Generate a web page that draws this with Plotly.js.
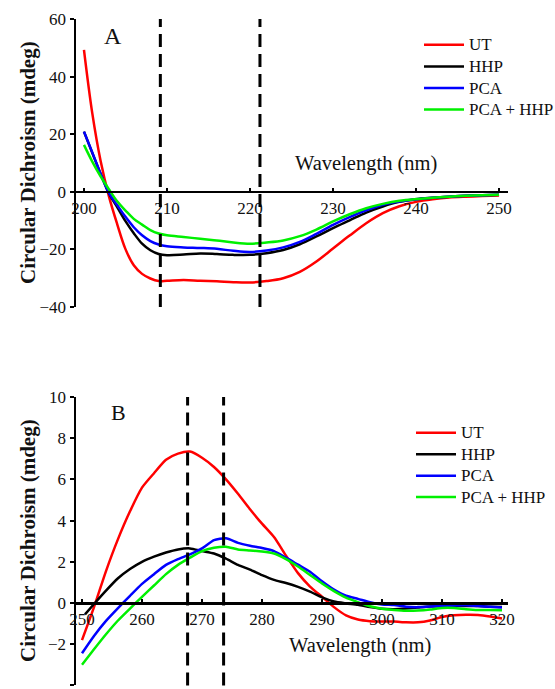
<!DOCTYPE html>
<html>
<head>
<meta charset="utf-8">
<script src="https://cdn.plot.ly/plotly-3.0.1.min.js"></script>
<style>html,body{margin:0;padding:0;background:#fff;}#chart{width:555px;height:689px;}</style>
</head>
<body>
<div id="chart"></div>
<script>
// ---------- Panel A (far-UV) ----------
var seriesNames = ["UT", "HHP", "PCA", "PCA + HHP"];
var seriesColors = ["#ff0000", "#000000", "#0000ff", "#00f000"];

var wavelengthA = [200, 201, 202, 203, 204, 205, 206, 207, 208, 209, 210, 212, 214, 216, 218, 220, 222, 224, 226, 228, 230, 232, 234, 236, 238, 240, 242, 244, 246, 248, 250];
var utA   = [49.3, 27.3, 10.8, -1.5, -11.2, -19.9, -25.5, -28.5, -30.1, -31.0, -30.9, -30.6, -30.9, -31.1, -31.4, -31.5, -31.0, -30.0, -27.8, -24.2, -19.7, -15.2, -10.9, -7.4, -5.0, -3.5, -2.6, -2.0, -1.7, -1.5, -1.3];
var hhpA  = [20.9, 13.5, 6.3, -0.5, -5.3, -10.2, -14.4, -18.0, -20.3, -21.6, -22.0, -21.8, -21.4, -21.6, -21.9, -21.9, -21.3, -20.2, -18.2, -15.5, -12.6, -9.9, -7.2, -5.1, -3.5, -2.6, -2.1, -1.7, -1.4, -1.2, -1.0];
var pcaA  = [20.9, 13.7, 6.3, -0.4, -4.6, -8.7, -12.3, -15.1, -17.1, -18.3, -18.9, -19.3, -19.5, -19.8, -20.5, -20.9, -20.4, -19.3, -17.4, -14.6, -11.5, -8.8, -6.4, -4.5, -3.4, -2.6, -2.1, -1.7, -1.4, -1.2, -1.0];
var bothA = [16.3, 10.5, 5.4, 0.9, -3.3, -6.5, -9.4, -11.4, -13.3, -14.5, -15.1, -15.7, -16.3, -16.9, -17.6, -18.0, -17.6, -16.9, -15.4, -13.1, -10.3, -7.8, -5.7, -4.2, -3.1, -2.5, -2.1, -1.7, -1.4, -1.2, -1.0];
var markersA = [209.2, 221.2];
var xTicksA = [200, 210, 220, 230, 240, 250];
var yTicksA = [-40, -20, 0, 20, 40, 60];

// ---------- Panel B (near-UV) ----------
var wavelengthB = [250, 252, 254, 256, 258, 260, 262, 264, 266, 268, 270, 272, 274, 276, 278, 280, 282, 284, 286, 288, 290, 292, 294, 296, 298, 300, 302, 304, 306, 308, 310, 312, 314, 316, 318, 320];
var wavelengthHhpB = [250.5, 252, 254, 256, 258, 260, 262, 264, 266, 268, 270, 272, 274, 276, 278, 280, 282, 284, 286, 288, 290, 292, 294, 296, 298, 300, 302, 304, 306, 308, 310, 312, 314, 316, 318, 320];
var utB   = [-1.8, -0.2, 1.55, 3.1, 4.45, 5.6, 6.3, 6.95, 7.25, 7.35, 7.05, 6.6, 6.0, 5.3, 4.55, 3.85, 3.2, 2.3, 1.45, 0.8, 0.3, -0.2, -0.6, -0.8, -0.88, -0.9, -0.9, -0.94, -0.94, -0.85, -0.68, -0.6, -0.57, -0.58, -0.65, -0.75];
var hhpB  = [-0.55, -0.05, 0.6, 1.2, 1.65, 2.0, 2.25, 2.45, 2.6, 2.65, 2.52, 2.4, 2.15, 1.85, 1.62, 1.35, 1.12, 0.97, 0.78, 0.55, 0.27, 0.07, -0.02, -0.09, -0.2, -0.28, -0.3, -0.27, -0.22, -0.17, -0.15, -0.15, -0.15, -0.15, -0.18, -0.2];
var pcaB  = [-2.44, -1.6, -0.87, -0.25, 0.35, 0.93, 1.4, 1.85, 2.13, 2.36, 2.65, 3.05, 3.14, 2.92, 2.78, 2.67, 2.52, 2.2, 1.86, 1.52, 1.05, 0.65, 0.35, 0.2, 0.04, -0.07, -0.1, -0.18, -0.2, -0.17, -0.15, -0.12, -0.11, -0.15, -0.18, -0.22];
var bothB = [-3.0, -2.25, -1.52, -0.85, -0.27, 0.3, 0.85, 1.4, 1.85, 2.2, 2.52, 2.68, 2.73, 2.6, 2.55, 2.5, 2.4, 2.13, 1.77, 1.36, 0.95, 0.58, 0.26, 0.04, -0.16, -0.28, -0.34, -0.38, -0.37, -0.32, -0.24, -0.24, -0.3, -0.34, -0.34, -0.35];
var markersB = [267.6, 273.6];
var xTicksB = [250, 260, 270, 280, 290, 300, 310, 320];
var yTicksB = [-4, -2, 0, 2, 4, 6, 8, 10];

var xTitle = "Wavelength (nm)";
var yTitle = "Circular Dichroism (mdeg)";

// ---------- layout geometry ----------
var W = 555, H = 689;
var FONT = "Liberation Serif";
var TXT = "#111111";
var xDomain = [76 / W, 508 / W];
var rangeXA = [199.04, 251.08], rangeYA = [-40, 60];
var rangeXB = [249, 321], rangeYB = [-4, 10];
var domYA = [1 - 307 / H, 1 - 19 / H];
var domYB = [1 - 685.4 / H, 1 - 397 / H];
function zeroPos(range, dom) { return dom[0] + (0 - range[0]) / (range[1] - range[0]) * (dom[1] - dom[0]); }
function legendLabel(s) { return '<span style="font-size:17px">' + s + '</span>'; }

var seriesA = [utA, hhpA, pcaA, bothA];
var seriesB = [utB, hhpB, pcaB, bothB];
var traces = [];
for (var i = 0; i < 4; i++) {
  traces.push({
    type: "scatter", mode: "lines", x: wavelengthA, y: seriesA[i], name: legendLabel(seriesNames[i]),
    xaxis: "x", yaxis: "y", legend: "legend",
    line: { color: seriesColors[i], width: 2.5, shape: "spline", smoothing: 1 }
  });
}
for (var j = 0; j < 4; j++) {
  traces.push({
    type: "scatter", mode: "lines", x: (j === 1 ? wavelengthHhpB : wavelengthB), y: seriesB[j], name: legendLabel(seriesNames[j]),
    xaxis: "x2", yaxis: "y2", legend: "legend2",
    line: { color: seriesColors[j], width: 2.5, shape: "spline", smoothing: 0.6 }
  });
}

var shapes = [];
markersA.forEach(function (m) {
  shapes.push({ type: "line", xref: "x", yref: "y domain", x0: m, x1: m, y0: 0, y1: 1,
    line: { color: "#000", width: 3, dash: "13px,7px" } });
});
markersB.forEach(function (m) {
  shapes.push({ type: "line", xref: "x2", yref: "y2 domain", x0: m, x1: m, y0: 0, y1: 1.0,
    line: { color: "#000", width: 3, dash: "13px,7px" } });
});

function xAxis(range, ticks, pos) {
  return {
    domain: xDomain, range: range, anchor: "free", position: pos,
    tickvals: ticks, ticktext: ticks.map(String),
    showline: true, linecolor: "#000", linewidth: 2.5,
    ticks: "inside", ticklen: 3, tickwidth: 1.5, tickcolor: "#000",
    showgrid: false, zeroline: false, automargin: false,
    tickfont: { family: FONT, size: 17, color: TXT }
  };
}
function yAxis(range, ticks, dom, anchor) {
  return {
    domain: dom, range: range, anchor: anchor,
    tickvals: ticks, ticktext: ticks.map(function (v) { return v < 0 ? "\u2212" + Math.abs(v) : String(v); }),
    showline: true, linecolor: "#000", linewidth: 2.5,
    ticks: "outside", ticklen: 4, tickwidth: 2, tickcolor: "#000",
    showgrid: false, zeroline: false, automargin: false,
    tickfont: { family: FONT, size: 17, color: TXT }
  };
}

var layout = {
  width: W, height: H,
  font: { family: FONT, color: TXT },
  margin: { l: 0, r: 0, t: 0, b: 0, pad: 0, autoexpand: false },
  paper_bgcolor: "#fff", plot_bgcolor: "rgba(0,0,0,0)",
  showlegend: true,
  xaxis: xAxis(rangeXA, xTicksA, zeroPos(rangeYA, domYA)),
  yaxis: yAxis(rangeYA, yTicksA, domYA, "x"),
  xaxis2: xAxis(rangeXB, xTicksB, zeroPos(rangeYB, domYB)),
  yaxis2: yAxis(rangeYB, yTicksB, domYB, "x2"),
  legend: {
    x: 419 / W, y: 1 - 29 / H, xanchor: "left", yanchor: "top",
    bgcolor: "rgba(0,0,0,0)", borderwidth: 0, itemwidth: 40, tracegroupgap: 0,
    font: { family: FONT, size: 14.3, color: TXT }
  },
  legend2: {
    x: 411 / W, y: 1 - 417 / H, xanchor: "left", yanchor: "top",
    bgcolor: "rgba(0,0,0,0)", borderwidth: 0, itemwidth: 40, tracegroupgap: 0,
    font: { family: FONT, size: 14.2, color: TXT }
  },
  shapes: shapes,
  annotations: [
    { text: "A", xref: "paper", yref: "paper", x: 113 / W, y: 1 - 36 / H, xanchor: "center", yanchor: "middle",
      showarrow: false, font: { family: FONT, size: 24, color: TXT } },
    { text: "B", xref: "paper", yref: "paper", x: 118 / W, y: 1 - 412 / H, xanchor: "center", yanchor: "middle",
      showarrow: false, font: { family: FONT, size: 22, color: TXT } },
    { text: xTitle, xref: "paper", yref: "paper", x: 366 / W, y: 1 - 163 / H, xanchor: "center", yanchor: "middle",
      showarrow: false, font: { family: FONT, size: 20.5, color: TXT } },
    { text: xTitle, xref: "paper", yref: "paper", x: 360 / W, y: 1 - 645 / H, xanchor: "center", yanchor: "middle",
      showarrow: false, font: { family: FONT, size: 20.5, color: TXT } },
    { text: "<b>" + yTitle + "</b>", xref: "paper", yref: "paper", x: 28 / W, y: 1 - 163 / H, xanchor: "center", yanchor: "middle",
      textangle: -90, showarrow: false, font: { family: FONT, size: 21, color: TXT } },
    { text: "<b>" + yTitle + "</b>", xref: "paper", yref: "paper", x: 28 / W, y: 1 - 541 / H, xanchor: "center", yanchor: "middle",
      textangle: -90, showarrow: false, font: { family: FONT, size: 21, color: TXT } }
  ]
};

Plotly.newPlot("chart", traces, layout, { displayModeBar: false, staticPlot: true });
</script>
</body>
</html>
